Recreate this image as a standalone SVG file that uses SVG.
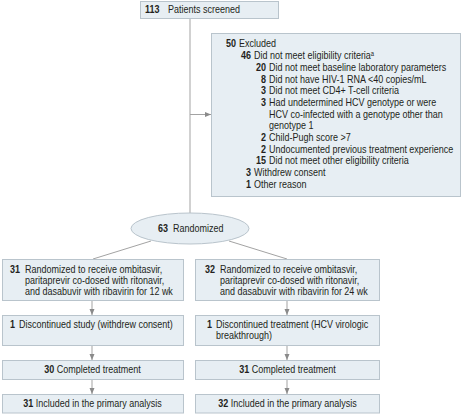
<svg xmlns="http://www.w3.org/2000/svg" width="467" height="414" viewBox="0 0 467 414">
<style>
.box{fill:#e7eef3;stroke:#b9c4cc;stroke-width:1}
.t{font-family:"Liberation Sans",Arial,sans-serif;font-size:10px;fill:#231f20}
.b{font-weight:bold}
.ln{fill:none;stroke:#a3a3a3;stroke-width:1}
</style>
<defs>
<marker id="ah" viewBox="0 0 6 6" refX="6" refY="3" markerWidth="6" markerHeight="6" orient="auto" markerUnits="userSpaceOnUse">
<path d="M0,0.5 L6,3 L0,5.5 Z" fill="#8a8a8a"/>
</marker>
</defs>
<rect width="467" height="414" fill="#ffffff"/>
<g id="connectors">
<path class="ln" d="M190,18 V213"/>
<path class="ln" d="M190,114.5 H211" marker-end="url(#ah)"/>
<path class="ln" d="M151,241 L93,259"/>
<path class="ln" d="M229,241 L287,259"/>
<path class="ln" d="M92,301 V315" marker-end="url(#ah)"/>
<path class="ln" d="M287,301 V315" marker-end="url(#ah)"/>
<path class="ln" d="M92,346 V360" marker-end="url(#ah)"/>
<path class="ln" d="M287,346 V360" marker-end="url(#ah)"/>
<path class="ln" d="M92,379 V394" marker-end="url(#ah)"/>
<path class="ln" d="M287,379 V394" marker-end="url(#ah)"/>
</g>
<g id="screened">
<rect class="box" x="140.5" y="1.5" width="138" height="17"/>
<g transform="scale(0.9,1)">
<text class="t" y="13.5"><tspan class="b" x="161.11">113</tspan><tspan x="186.67">Patients screened</tspan></text>
</g>
</g>
<g id="excluded">
<rect class="box" x="211.5" y="33.5" width="249" height="163"/>
<g transform="scale(0.9,1)">
<text class="t" y="47.5"><tspan class="b" x="262.22" text-anchor="end">50</tspan><tspan x="265.56">Excluded</tspan></text>
<text class="t" y="59.2"><tspan class="b" x="278.89" text-anchor="end">46</tspan><tspan x="282.22">Did not meet eligibility criteria</tspan><tspan font-size="6.5" dy="-3.5">a</tspan></text>
<text class="t" y="70.9"><tspan class="b" x="295.56" text-anchor="end">20</tspan><tspan x="298.89">Did not meet baseline laboratory parameters</tspan></text>
<text class="t" y="82.6"><tspan class="b" x="295.56" text-anchor="end">8</tspan><tspan x="298.89">Did not have HIV-1 RNA &lt;40 copies/mL</tspan></text>
<text class="t" y="94.3"><tspan class="b" x="295.56" text-anchor="end">3</tspan><tspan x="298.89">Did not meet CD4+ T-cell criteria</tspan></text>
<text class="t" y="106"><tspan class="b" x="295.56" text-anchor="end">3</tspan><tspan x="298.89">Had undetermined HCV genotype or were</tspan></text>
<text class="t" x="298.89" y="117.7">HCV co-infected with a genotype other than</text>
<text class="t" x="298.89" y="129.4">genotype 1</text>
<text class="t" y="141.1"><tspan class="b" x="295.56" text-anchor="end">2</tspan><tspan x="298.89">Child-Pugh score &gt;7</tspan></text>
<text class="t" y="152.8"><tspan class="b" x="295.56" text-anchor="end">2</tspan><tspan x="298.89">Undocumented previous treatment experience</tspan></text>
<text class="t" y="164.5"><tspan class="b" x="295.56" text-anchor="end">15</tspan><tspan x="298.89">Did not meet other eligibility criteria</tspan></text>
<text class="t" y="176.2"><tspan class="b" x="278.89" text-anchor="end">3</tspan><tspan x="282.22">Withdrew consent</tspan></text>
<text class="t" y="187.9"><tspan class="b" x="278.89" text-anchor="end">1</tspan><tspan x="282.22">Other reason</tspan></text>
</g>
</g>
<g id="randomized">
<ellipse class="box" cx="190" cy="228.5" rx="59" ry="15.5"/>
<g transform="scale(0.9,1)">
<text class="t" y="232"><tspan class="b" x="175.56">63</tspan><tspan x="192.22">Randomized</tspan></text>
</g>
</g>
<g id="arm12">
<rect class="box" x="2.5" y="259.5" width="181" height="41"/>
<g transform="scale(0.9,1)">
<text class="t" y="273.5"><tspan class="b" x="11.11">31</tspan><tspan x="27.78">Randomized to receive ombitasvir,</tspan></text>
<text class="t" x="27.78" y="284.5">paritaprevir co-dosed with ritonavir,</text>
<text class="t" x="27.78" y="295.5">and dasabuvir with ribavirin for 12 wk</text>
</g>
</g>
<g id="arm24">
<rect class="box" x="195.5" y="259.5" width="184" height="41"/>
<g transform="scale(0.9,1)">
<text class="t" y="273.5"><tspan class="b" x="227.78">32</tspan><tspan x="244.44">Randomized to receive ombitasvir,</tspan></text>
<text class="t" x="244.44" y="284.5">paritaprevir co-dosed with ritonavir,</text>
<text class="t" x="244.44" y="295.5">and dasabuvir with ribavirin for 24 wk</text>
</g>
</g>
<g id="disc12">
<rect class="box" x="2.5" y="315.5" width="181" height="30"/>
<g transform="scale(0.9,1)">
<text class="t" y="328.5"><tspan class="b" x="11.11">1</tspan><tspan x="21.11">Discontinued study (withdrew consent)</tspan></text>
</g>
</g>
<g id="disc24">
<rect class="box" x="195.5" y="315.5" width="184" height="30"/>
<g transform="scale(0.9,1)">
<text class="t" y="328.5"><tspan class="b" x="230">1</tspan><tspan x="240">Discontinued treatment (HCV virologic</tspan></text>
<text class="t" x="240" y="339.5">breakthrough)</text>
</g>
</g>
<g id="comp12">
<rect class="box" x="2.5" y="360.5" width="181" height="19"/>
<g transform="scale(0.9,1)">
<text class="t" x="102.78" y="373.5" text-anchor="middle"><tspan class="b">30</tspan> Completed treatment</text>
</g>
</g>
<g id="comp24">
<rect class="box" x="195.5" y="360.5" width="184" height="19"/>
<g transform="scale(0.9,1)">
<text class="t" x="319.44" y="373.5" text-anchor="middle"><tspan class="b">31</tspan> Completed treatment</text>
</g>
</g>
<g id="incl12">
<rect class="box" x="2.5" y="394.5" width="181" height="18.5"/>
<g transform="scale(0.9,1)">
<text class="t" x="102.78" y="407.5" text-anchor="middle"><tspan class="b">31</tspan> Included in the primary analysis</text>
</g>
</g>
<g id="incl24">
<rect class="box" x="195.5" y="394.5" width="184" height="18.5"/>
<g transform="scale(0.9,1)">
<text class="t" x="319.44" y="407.5" text-anchor="middle"><tspan class="b">32</tspan> Included in the primary analysis</text>
</g>
</g>
</svg>
